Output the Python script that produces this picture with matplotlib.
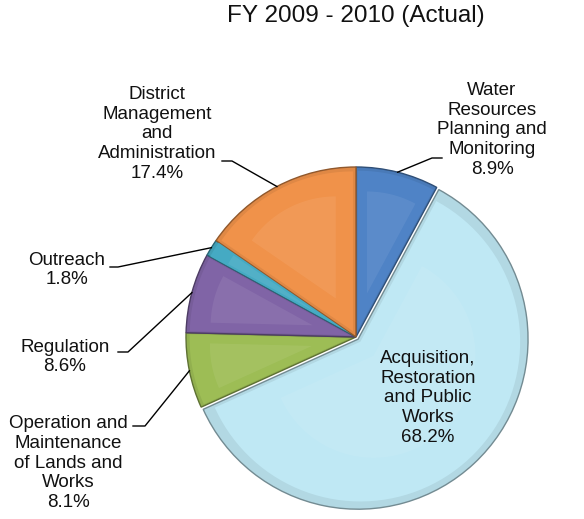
import matplotlib.pyplot as plt
import numpy as np
from matplotlib.colors import to_rgb
from matplotlib.patches import Polygon

plt.rcParams["font.family"] = ["Liberation Sans", "DejaVu Sans"]

TITLE = "FY 2009 - 2010 (Actual)"

# clockwise from 12 o'clock
CATEGORIES = [
    "Water\nResources\nPlanning and\nMonitoring",
    "Acquisition,\nRestoration\nand Public\nWorks",
    "Operation and\nMaintenance\nof Lands and\nWorks",
    "Regulation",
    "Outreach",
    "District\nManagement\nand\nAdministration",
]
SHARES = [8.9, 68.2, 8.1, 8.6, 1.8, 17.4]
COLORS = ["#4f83c6", "#bfe8f4", "#9dbd55", "#8064a6", "#45aac3", "#f0924a"]

# layout in pixels, measured from the top-left corner
CENTER = (356, 337)
RADIUS = 170
EXPLODE = [0, 3, 0, 0, 0, 0]
LABEL_POS = [(492, 130), (428, 398), (68, 463), (65, 357), (67, 270), (157, 134)]
LEADER_END = [(442, 158), None, (133, 426), (118, 352), (110, 267), (222, 161)]
ELBOW_DX = [-10, 0, 12, 10, 8, 10]


def shade(color, f):
    c = np.array(to_rgb(color))
    return tuple(c + (1 - c) * f) if f > 0 else tuple(c * (1 + f))


def wedge_poly(w, scale):
    """Outline of a wedge shrunk toward its centroid."""
    t1, t2 = np.radians(w.theta1), np.radians(w.theta2)
    cx, cy = w.center
    t = np.linspace(t1, t2, 80)
    pts = np.vstack([[cx, cy], np.column_stack([cx + w.r * np.cos(t),
                                                cy + w.r * np.sin(t)])])
    half = (t2 - t1) / 2
    d = 2 * w.r * np.sin(half) / (3 * half)
    tm = (t1 + t2) / 2
    c = np.array([cx + d * np.cos(tm), cy + d * np.sin(tm)])
    return c + (pts - c) * scale


fig = plt.figure(figsize=(5.84, 5.19), dpi=100)
ax = fig.add_axes([0, 0, 1, 1])

wedges, _ = ax.pie(SHARES, colors=COLORS, startangle=-90, counterclock=True,
                   center=CENTER, radius=RADIUS, explode=EXPLODE)
for w, col in zip(wedges, COLORS):
    w.set_facecolor(shade(col, -0.07))
    w.set_edgecolor(shade(col, -0.4))
    w.set_linewidth(1.0)
    ax.add_patch(Polygon(wedge_poly(w, 0.94), closed=True, fc=col, ec="none",
                         zorder=w.get_zorder() + 0.1))
    ax.add_patch(Polygon(wedge_poly(w, 0.6), closed=True,
                         fc=shade(col, 0.1), ec="none", alpha=0.7,
                         zorder=w.get_zorder() + 0.2))

ax.set_xlim(0, 584)
ax.set_ylim(519, 0)
ax.set_aspect("equal")
ax.axis("off")

for w, name, v, pos, end, dx in zip(wedges, CATEGORIES, SHARES, LABEL_POS,
                                     LEADER_END, ELBOW_DX):
    ax.text(*pos, f"{name}\n{v:.1f}%", ha="center", va="center",
            fontsize=13.5, linespacing=1.22, color="#111111", zorder=5)
    if end is None:
        continue
    tm = np.radians((w.theta1 + w.theta2) / 2)
    rim = (w.center[0] + w.r * np.cos(tm), w.center[1] + w.r * np.sin(tm))
    ax.plot([end[0], end[0] + dx, rim[0]], [end[1], end[1], rim[1]],
            color="black", lw=1.0, zorder=6)

ax.text(356, 16, TITLE, ha="center", va="center", fontsize=17.5,
        color="#111111")

fig.savefig("out.png", dpi=100)
